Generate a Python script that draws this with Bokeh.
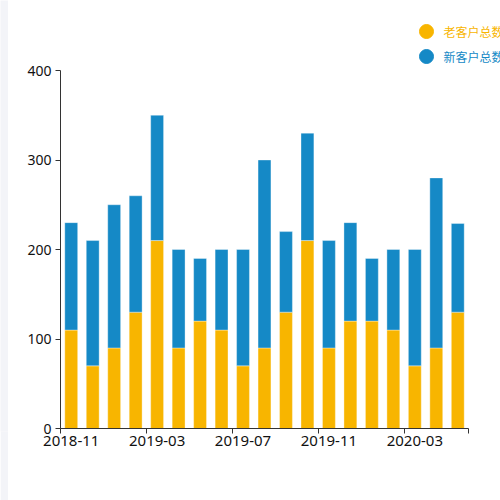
from bokeh.plotting import figure
from bokeh.models import FixedTicker, Range1d, ColumnDataSource
from bokeh.layouts import row
from bokeh.core.properties import value
from bokeh.embed import file_html
from bokeh.resources import INLINE

months = ["2018-11", "2018-12", "2019-01", "2019-02", "2019-03", "2019-04", "2019-05",
          "2019-06", "2019-07", "2019-08", "2019-09", "2019-10", "2019-11", "2019-12",
          "2020-01", "2020-02", "2020-03", "2020-04", "2020-05"]
old_customers = [110, 70, 90, 130, 210, 90, 120, 110, 70, 90, 130, 210, 90, 120, 120, 110, 70, 90, 130]
new_customers = [120, 140, 160, 130, 140, 110, 70, 90, 130, 210, 90, 120, 120, 110, 70, 90, 130, 190, 99]
series_names = ["老客户总数", "新客户总数"]
y_ticks = [0, 100, 200, 300, 400]

YELLOW = "#F8B500"
BLUE = "#1589C6"
FONT = "Noto Sans"
GREY = "#F3F4F8"

# layout (pixels)
W, H = 492, 497
LEFT, BOTTOM = 52, 69
AXIS_W = 408          # x-axis length in px
AXIS_H = 358          # y-axis length in px
n = len(months)
frame_w = W - LEFT
frame_h = H - BOTTOM
x_end = n * frame_w / AXIS_W
y_end = 400 * frame_h / AXIS_H

# --- left grey strip (card edge) ---
strip = figure(width=8, height=500, output_backend="svg", toolbar_location=None,
               min_border=0, x_axis_location=None, y_axis_location=None)
strip.background_fill_color = GREY
strip.border_fill_color = GREY
strip.outline_line_color = None
strip.grid.visible = False

# --- main chart ---
xpos = [i + 0.5 for i in range(n)]
src = ColumnDataSource(dict(x=xpos, old=old_customers, new=new_customers))

p = figure(width=W, height=H, output_backend="svg", toolbar_location=None,
           x_range=Range1d(0, x_end), y_range=Range1d(0, y_end),
           min_border_left=LEFT, min_border_right=0, min_border_top=0, min_border_bottom=BOTTOM)
p.title = None
p.outline_line_color = None
p.xgrid.visible = False
p.ygrid.visible = False

p.vbar_stack(["old", "new"], x="x", width=0.6, source=src, color=[YELLOW, BLUE],
             line_color="white", line_alpha=0.35, line_width=1)

# x axis: labels at band centres, tick marks at band boundaries
label_idx = list(range(0, n, 4))
p.xaxis.ticker = FixedTicker(ticks=[i + 0.5 for i in label_idx],
                             minor_ticks=label_idx + [n])
p.xaxis.major_label_overrides = {i + 0.5: months[i] for i in label_idx}
p.xaxis.bounds = (0, n)
p.xaxis.major_tick_line_color = None
p.xaxis.minor_tick_line_color = "#333333"
p.xaxis.minor_tick_out = 5
p.xaxis.minor_tick_in = 0

p.yaxis.ticker = FixedTicker(ticks=y_ticks)
p.yaxis.bounds = (0, 400)
p.yaxis.major_tick_line_color = "#333333"
p.yaxis.minor_tick_line_color = None

for ax in (p.xaxis[0], p.yaxis[0]):
    ax.axis_line_color = "#333333"
    ax.major_tick_out = 5
    ax.major_tick_in = 0
    ax.major_label_text_font = FONT
    ax.major_label_text_color = "#111111"
p.xaxis.major_label_text_font_size = "15px"
p.yaxis.major_label_text_font_size = "14px"
p.xaxis.major_label_standoff = 2
p.yaxis.major_label_standoff = 4

# legend in pixel coordinates of the figure
p.extra_x_ranges = {"px": Range1d(LEFT, W)}
p.extra_y_ranges = {"py": Range1d(frame_h, 0)}
leg_src = ColumnDataSource(dict(cx=[418, 418], cy=[31, 56], tx=[435, 435],
                                label=series_names, color=[YELLOW, BLUE]))
p.scatter(x="cx", y="cy", size=14, marker="circle", color="color", source=leg_src,
          x_range_name="px", y_range_name="py")
p.text(x="tx", y="cy", text="label", text_color="color", text_font=value("Noto Sans CJK SC"),
       text_font_size="12px", text_baseline="middle", text_align="left", source=leg_src,
       x_range_name="px", y_range_name="py")

layout = row(strip, p)
open("out.html", "w").write(file_html(layout, INLINE))
